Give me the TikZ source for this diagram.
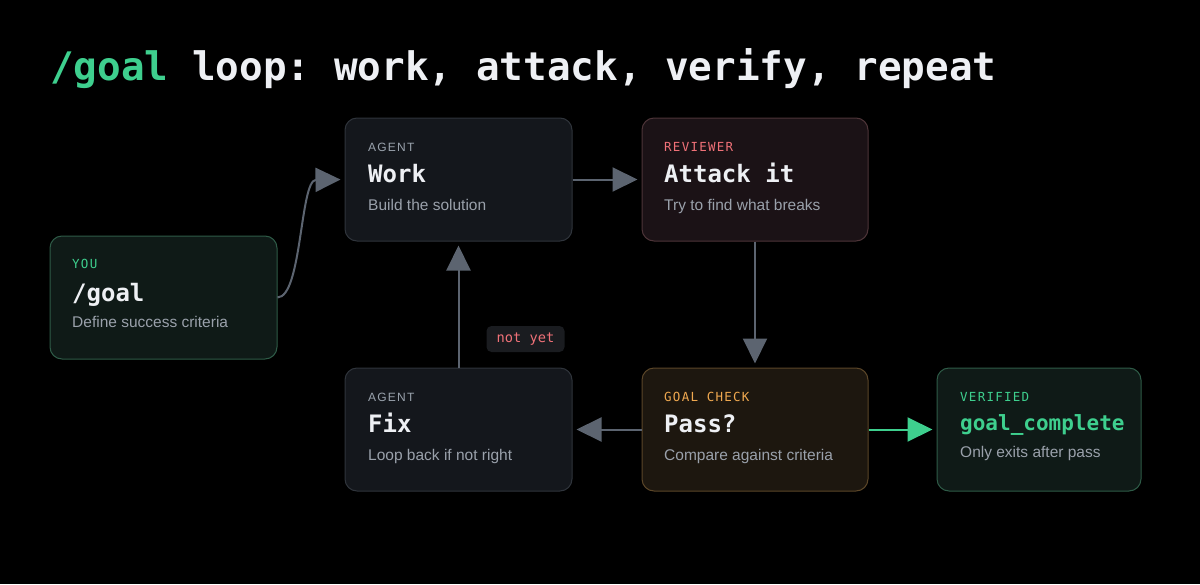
\documentclass[tikz,border=0pt]{standalone}
\usepackage{fontspec}
\setmainfont{Liberation Sans}
\newfontfamily\monofam{DejaVu Sans Mono}
\newfontfamily\lblmono{DejaVu Sans Mono}[LetterSpace=10]
\newfontfamily\lblsans{Liberation Sans}[LetterSpace=10]
\usetikzlibrary{arrows.meta}
\frenchspacing
\definecolor{bgc}{HTML}{000000}
\definecolor{titlewhite}{HTML}{EEF0F4}
\definecolor{accgreen}{HTML}{3ECF8E}
\definecolor{agentgray}{HTML}{9AA3AD}
\definecolor{revred}{HTML}{F07178}
\definecolor{checkorange}{HTML}{F0A950}
\definecolor{subgray}{HTML}{9AA1AB}
\definecolor{arrowgray}{HTML}{5C6470}
\definecolor{greenfill}{HTML}{0F1A17}
\definecolor{greenborder}{HTML}{2E5B47}
\definecolor{agentfill}{HTML}{14171C}
\definecolor{agentborder}{HTML}{2F343B}
\definecolor{revfill}{HTML}{1B1216}
\definecolor{revborder}{HTML}{4D3438}
\definecolor{checkfill}{HTML}{1D170F}
\definecolor{checkborder}{HTML}{5B4628}
\definecolor{tagfill}{HTML}{1A1C20}
\tikzset{
  card/.style={draw, rounded corners=12pt, line width=1pt, inner sep=0pt, minimum height=123pt},
  lbl/.style={anchor=base west, inner sep=0pt, font=\fontsize{12.5}{12.5}\selectfont\lblmono},
  lbls/.style={anchor=base west, inner sep=0pt, font=\fontsize{12}{12}\selectfont\lblsans},
  ttl/.style={anchor=base west, inner sep=0pt, text=titlewhite, font=\fontsize{24}{24}\selectfont\monofam\bfseries},
  sub/.style={anchor=base west, inner sep=0pt, text=subgray, font=\fontsize{15.5}{15.5}\selectfont},
  conn/.style={draw=arrowgray, line width=2pt, -{Triangle[length=25pt,width=24pt]}, shorten >=4pt},
}
\begin{document}
\begin{tikzpicture}[x=1pt,y=-1pt]
\fill[bgc] (0,0) rectangle (1200,584);
\useasboundingbox (0,0) rectangle (1200,584);

\node[anchor=base west, inner sep=0pt, text=titlewhite, font=\fontsize{39.3}{39.3}\selectfont\monofam\bfseries] (title) at (50,80) {\textcolor{accgreen}{/goal} loop: work, attack, verify, repeat};

% cards
\node[card, fill=greenfill, draw=greenborder, minimum width=227pt] (you) at (163.5,297.5) {};
\node[card, fill=agentfill, draw=agentborder, minimum width=227pt] (work) at (458.5,179.5) {};
\node[card, fill=revfill, draw=revborder, minimum width=226pt] (attack) at (755,179.5) {};
\node[card, fill=agentfill, draw=agentborder, minimum width=227pt] (fix) at (458.5,429.5) {};
\node[card, fill=checkfill, draw=checkborder, minimum width=226pt] (pass) at (755,429.5) {};
\node[card, fill=greenfill, draw=greenborder, minimum width=204pt] (done) at (1039,429.5) {};

% texts
\node[lbl, text=accgreen] (youl) at (72,268) {YOU};
\node[ttl] (yout) at (72,301) {/goal};
\node[sub] (yous) at (72,327) {Define success criteria};

\node[lbls, text=agentgray] (workl) at (368,151) {AGENT};
\node[ttl] (workt) at (368,182) {Work};
\node[sub] (works) at (368,210) {Build the solution};

\node[lbl, text=revred] (attackl) at (664,151) {REVIEWER};
\node[ttl] (attackt) at (664,182) {Attack it};
\node[sub] (attacks) at (664,210) {Try to find what breaks};

\node[lbls, text=agentgray] (fixl) at (368,401) {AGENT};
\node[ttl] (fixt) at (368,432) {Fix};
\node[sub] (fixs) at (368,460) {Loop back if not right};

\node[lbl, text=checkorange] (passl) at (664,401) {GOAL CHECK};
\node[ttl] (passt) at (664,432) {Pass?};
\node[sub] (passs) at (664,460) {Compare against criteria};

\node[lbl, text=accgreen] (donel) at (960,401) {VERIFIED};
\node[ttl, text=accgreen, font=\fontsize{21}{21}\selectfont\monofam\bfseries] (donet) at (960,430) {goal\_complete};
\node[sub] (dones) at (960,457) {Only exits after pass};

% connectors
\draw[conn] (you.east) .. controls (302,297) and (300,180) .. (work.west);
\draw[conn] (work.east) -- (attack.west);
\draw[conn] (attack.south) -- (pass.north);
\draw[conn] (pass.west) -- (fix.east);
\draw[conn] (fix.north) -- (work.south);
\draw[conn, draw=accgreen] (pass.east) -- (done.west);

% not yet tag
\node[fill=tagfill, rounded corners=5pt, minimum width=78pt, minimum height=26pt, inner sep=0pt, text=revred, font=\fontsize{13.7}{13.7}\selectfont\monofam] (tag) at (525.5,339) {not yet};
\end{tikzpicture}
\end{document}
